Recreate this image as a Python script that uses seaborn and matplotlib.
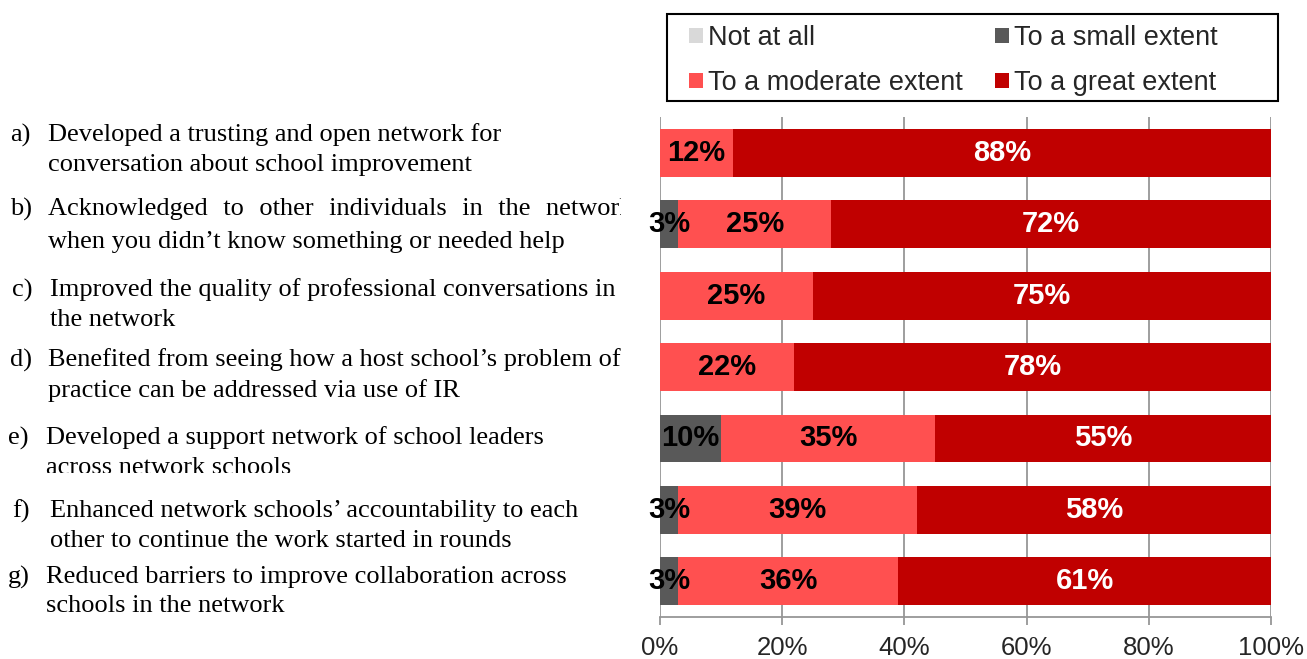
import matplotlib
matplotlib.use("Agg")
import matplotlib.pyplot as plt
import seaborn as sns
import numpy as np
import pandas as pd
from matplotlib.patches import Patch, Rectangle
from matplotlib.transforms import Bbox, TransformedBbox

# ---- data -------------------------------------------------------------
items = ["a", "b", "c", "d", "e", "f", "g"]
letters = ["a)", "b)", "c)", "d)", "e)", "f)", "g)"]
gap = "  \u200a"  # widened word gap for the justified line
line1 = [
    "Developed a trusting and open network for",
    gap.join(["Acknowledged", "to", "other", "individuals", "in", "the", "network"]),
    "Improved the quality of professional conversations in",
    "Benefited from seeing how a host school\u2019s problem of",
    "Developed a support network of school leaders",
    "Enhanced network schools\u2019 accountability to each",
    "Reduced barriers to improve collaboration across",
]
line2 = [
    "conversation about school improvement",
    "when you didn\u2019t know something or needed help",
    "the network",
    "practice can be addressed via use of IR",
    "across network schools",
    "other to continue the work started in rounds",
    "schools in the network",
]
series_names = ["Not at all", "To a small extent",
                "To a moderate extent", "To a great extent"]
not_at_all = [0, 0, 0, 0, 0, 0, 0]
small_extent = [0, 3, 0, 0, 10, 3, 3]
moderate_extent = [12, 25, 25, 22, 35, 39, 36]
great_extent = [88, 72, 75, 78, 55, 58, 61]
tick_values = [0, 20, 40, 60, 80, 100]
tick_labels = ["0%", "20%", "40%", "60%", "80%", "100%"]

colors = ["#D9D9D9", "#595959", "#FF5050", "#C00000"]
label_colors = ["black", "black", "black", "white"]

W, H = 1307, 659
fig = plt.figure(figsize=(W / 100, H / 100), dpi=100)
sns.set_style("white")
plt.rcParams["font.family"] = ["Liberation Sans", "DejaVu Sans"]


def fx(px):
    return px / W


def fy(py):
    return 1 - py / H


ax = fig.add_axes([fx(660), fy(617), fx(1271) - fx(660), fy(117) - fy(617)])

values = np.array([not_at_all, small_extent, moderate_extent, great_extent]).T
cum = np.cumsum(values, axis=1)
df = pd.DataFrame(cum, columns=series_names)
df["item"] = items

# stacked bars: draw cumulative totals from the outermost segment inward
for k in range(len(series_names) - 1, -1, -1):
    sns.barplot(data=df, x=series_names[k], y="item", color=colors[k],
                orient="h", width=0.67, linewidth=0, saturation=1, ax=ax)

# segment value labels
for i in range(len(items)):
    start = 0
    for k in range(len(series_names)):
        v = values[i, k]
        if v > 0:
            ax.text(start + v / 2, i, f"{v}%", ha="center", va="center",
                    fontsize=21, fontweight="bold", color=label_colors[k])
        start += v

ax.set_xlim(0, 100)
ax.set_ylim(6.5, -0.5)
ax.set_xticks(tick_values)
ax.set_xticklabels(tick_labels, fontsize=18.5)
ax.set_yticks([])
ax.set_xlabel("")
ax.set_ylabel("")
ax.xaxis.grid(True, color="#969696", linewidth=1.3)
ax.set_axisbelow(True)
for s in ["top", "right", "left"]:
    ax.spines[s].set_visible(False)
ax.spines["bottom"].set_color("#969696")
ax.spines["bottom"].set_linewidth(1.3)
ax.tick_params(axis="x", which="major", direction="out", length=6,
               width=1.3, color="#969696", pad=8, bottom=True)

# legend in a black frame above the bars
fig.add_artist(Rectangle((fx(667), fy(101)), fx(1278) - fx(667), fy(14) - fy(101),
                         transform=fig.transFigure, facecolor="white",
                         edgecolor="black", linewidth=1.5))
handles = [Patch(facecolor=c, edgecolor="none") for c in colors]
order = [0, 2, 1, 3]
fig.legend([handles[i] for i in order], [series_names[i] for i in order],
           ncol=2, loc="upper left", bbox_to_anchor=(fx(689), fy(25)),
           frameon=False, fontsize=19.5, handlelength=0.5, handleheight=0.5,
           handletextpad=0.2, columnspacing=1.2, labelspacing=0.7,
           borderpad=0, borderaxespad=0)

# statement labels on the left, cut off at the edge of their text column
label_rows = [
    (135, 165, 10, 48),
    (209, 242, 10, 48),
    (290, 320, 12, 50),
    (360, 391, 10, 48),
    (438, 468, 8, 46),
    (511, 541, 12, 50),
    (577, 606, 8, 46),
]
serif = ["Liberation Serif", "DejaVu Serif"]
for i, (y1, y2, xl, xt) in enumerate(label_rows):
    bottom_cut = 473 if i == 4 else H
    clip = TransformedBbox(Bbox.from_extents(0, fy(bottom_cut), fx(621), 1),
                           fig.transFigure)
    for txt, x, y in [(letters[i], xl, y1), (line1[i], xt, y1), (line2[i], xt, y2)]:
        t = fig.text(fx(x), fy(y), txt, ha="left", va="center", fontsize=19,
                     family=serif, color="black")
        t.set_clip_on(True)
        t.set_clip_box(clip)

fig.savefig("out.png", dpi=100)
